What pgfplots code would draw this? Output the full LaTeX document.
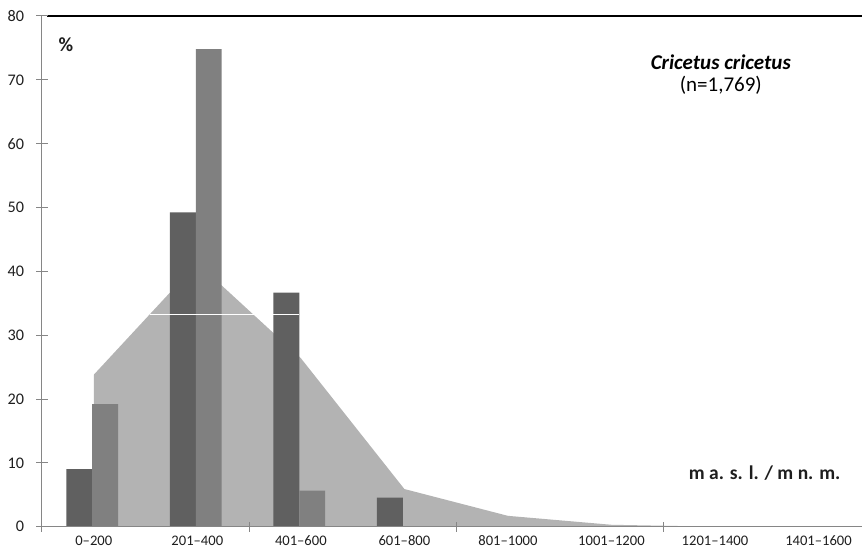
\documentclass[border=0pt]{standalone}
\usepackage{fontspec}
\setmainfont{Carlito}
\usepackage{pgfplots}
\pgfplotsset{compat=1.18}
\definecolor{darkbar}{HTML}{606060}
\definecolor{midbar}{HTML}{808080}
\definecolor{areagray}{HTML}{B3B3B3}
\definecolor{axisgray}{HTML}{868686}
\definecolor{labelcol}{HTML}{1E1E1E}
\begin{document}
\begin{tikzpicture}
\begin{axis}[name=ax, scale only axis, width=820bp, height=510.7bp,
  xmin=-0.5, xmax=7.42, ymin=0, ymax=80,
  axis x line*=bottom, axis y line*=left,
  axis line style={draw=axisgray, line width=1bp},
  axis on top,
  ytick={0,10,...,80},
  xtick={0,...,7},
  xticklabels={0\textendash200, 201\textendash400, 401\textendash600, 601\textendash800, 801\textendash1000, 1001\textendash1200, 1201\textendash1400, 1401\textendash1600},
  minor xtick={-0.5,1.5,3.5,5.5},
  tick align=center, major tick length=11bp, minor tick length=10bp,
  every tick/.style={draw=axisgray, line width=1bp},
  every major x tick/.style={draw=none},
  xticklabel style={font=\fontsize{14.6bp}{17bp}\selectfont, text=labelcol},
  yticklabel style={font=\fontsize{16.2bp}{19bp}\selectfont, text=labelcol, xshift=-9bp},
  /pgf/number format/assume math mode=true,
  clip=false,
]
\addplot[fill=areagray, draw=none] coordinates {(0,23.8) (1,41.3) (2,26.4) (3,5.9) (4,1.7) (5,0.3) (6,0) (7,0)} \closedcycle;
\addplot[ybar, bar width=0.25, bar shift=-0.14, fill=darkbar, draw=none] coordinates {(0,9.0) (1,49.25) (2,36.65) (3,4.54)};
\addplot[ybar, bar width=0.25, bar shift=0.11, fill=midbar, draw=none] coordinates {(0,19.2) (1,74.8) (2,5.64)};
\addplot[white, line width=1bp] coordinates {(0.546,33.3) (1.985,33.3)};
\draw[black, line width=1.2bp] ([xshift=4.7bp]rel axis cs:0,1) -- (rel axis cs:1,1);
\node[font=\fontsize{20bp}{24bp}\selectfont\bfseries, text=labelcol] at (axis cs:-0.268,75.45) {\%};
\node[font=\fontsize{21bp}{21bp}\selectfont, text=black, anchor=north, inner sep=0pt, align=center] at (axis cs:6.056,73.9) {\textbf{\textit{Cricetus cricetus}}\\[0.5bp](n=1,769)};
\node[font=\fontsize{19.5bp}{23bp}\selectfont\bfseries, text=labelcol] at (axis cs:6.48,8.38) {m a. s. l. / m n. m.};
\end{axis}
\pgfresetboundingbox
\path[use as bounding box] ([shift={(-42bp,-22.3bp)}]ax.south west) rectangle ([shift={(0bp,16bp)}]ax.north east);
\end{tikzpicture}
\end{document}
